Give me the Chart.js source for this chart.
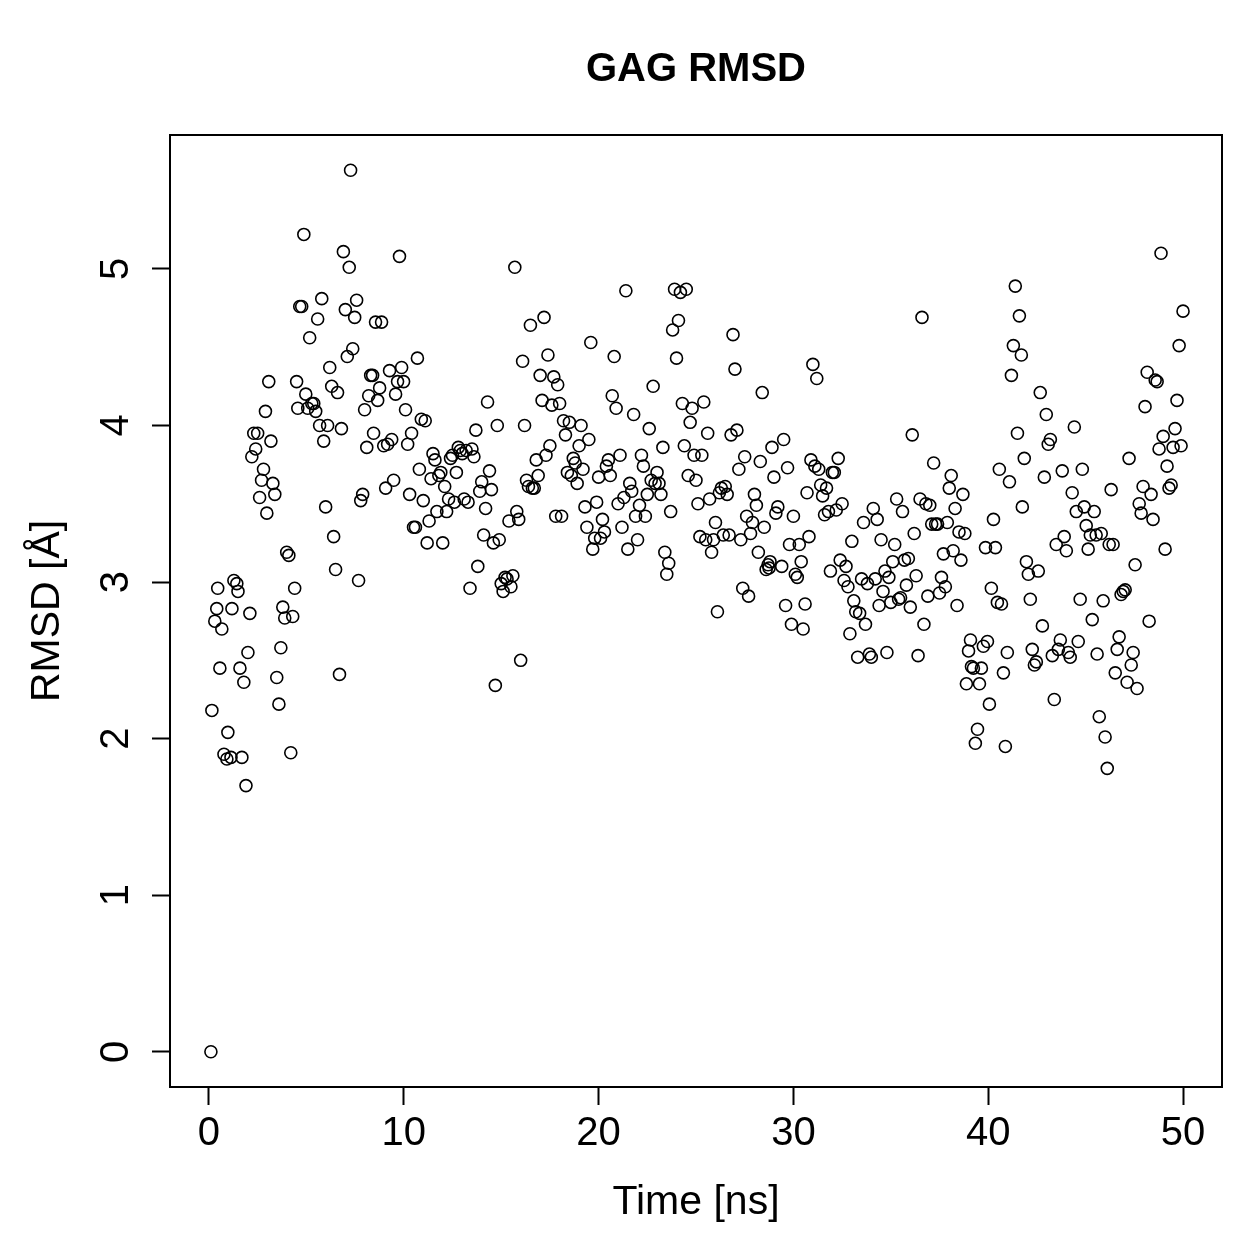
<!DOCTYPE html>
<html>
<head>
<meta charset="utf-8">
<title>GAG RMSD</title>
<script src="https://cdn.jsdelivr.net/npm/chart.js@4.4.1/dist/chart.umd.min.js"></script>
<style>
  html, body { margin: 0; padding: 0; background: #fff; }
</style>
</head>
<body>
<canvas id="rmsdChart" width="1259" height="1259"></canvas>
<script>
// ---- data ----
const TITLE = 'GAG RMSD';
const X_LABEL = 'Time [ns]';
const Y_LABEL = 'RMSD [Å]';
const X_TICKS = [0, 10, 20, 30, 40, 50];
const Y_TICKS = [0, 1, 2, 3, 4, 5];

const time = [
  0.1, 0.15, 0.3, 0.4, 0.45, 0.56, 0.66, 0.77, 0.92, 0.97,
  1.13, 1.18, 1.28, 1.43, 1.49, 1.59, 1.69, 1.79, 1.9, 2.0,
  2.1, 2.2, 2.3, 2.4, 2.5, 2.6, 2.7, 2.8, 2.9, 2.97,
  3.07, 3.18, 3.28, 3.38, 3.48, 3.59, 3.69, 3.79, 3.89, 3.99,
  4.1, 4.2, 4.3, 4.4, 4.5, 4.56, 4.66, 4.76, 4.87, 4.97,
  5.07, 5.17, 5.28, 5.38, 5.48, 5.58, 5.68, 5.79, 5.89, 5.99,
  6.09, 6.2, 6.3, 6.4, 6.5, 6.6, 6.7, 6.8, 6.9, 7.0,
  7.1, 7.2, 7.27, 7.38, 7.48, 7.58, 7.68, 7.79, 7.89, 7.99,
  8.1, 8.2, 8.3, 8.4, 8.45, 8.55, 8.66, 8.76, 8.86, 8.97,
  9.07, 9.17, 9.27, 9.38, 9.48, 9.58, 9.68, 9.78, 9.89, 9.99,
  10.09, 10.2, 10.3, 10.4, 10.5, 10.6, 10.7, 10.8, 10.9, 11.0,
  11.1, 11.2, 11.3, 11.4, 11.5, 11.6, 11.7, 11.8, 11.9, 12.0,
  12.1, 12.2, 12.3, 12.4, 12.5, 12.6, 12.7, 12.8, 12.9, 13.0,
  13.1, 13.2, 13.3, 13.4, 13.5, 13.6, 13.7, 13.8, 13.9, 14.0,
  14.1, 14.2, 14.3, 14.4, 14.5, 14.6, 14.7, 14.8, 14.9, 15.0,
  15.1, 15.2, 15.3, 15.4, 15.5, 15.6, 15.7, 15.8, 15.9, 16.0,
  16.1, 16.2, 16.3, 16.4, 16.5, 16.6, 16.7, 16.8, 16.9, 17.0,
  17.1, 17.2, 17.3, 17.4, 17.5, 17.6, 17.7, 17.8, 17.9, 18.0,
  18.1, 18.2, 18.3, 18.4, 18.5, 18.6, 18.7, 18.8, 18.9, 19.0,
  19.1, 19.2, 19.3, 19.4, 19.5, 19.6, 19.7, 19.8, 19.9, 20.0,
  20.1, 20.2, 20.3, 20.4, 20.5, 20.6, 20.7, 20.8, 20.9, 21.0,
  21.1, 21.2, 21.3, 21.4, 21.5, 21.6, 21.7, 21.8, 21.9, 22.0,
  22.1, 22.2, 22.3, 22.4, 22.5, 22.6, 22.7, 22.8, 22.9, 23.0,
  23.1, 23.2, 23.3, 23.4, 23.5, 23.6, 23.7, 23.8, 23.9, 24.0,
  24.1, 24.2, 24.3, 24.4, 24.5, 24.6, 24.7, 24.8, 24.9, 25.0,
  25.1, 25.2, 25.3, 25.4, 25.5, 25.6, 25.7, 25.8, 25.9, 26.0,
  26.1, 26.2, 26.3, 26.4, 26.5, 26.6, 26.7, 26.8, 26.9, 27.0,
  27.1, 27.2, 27.3, 27.4, 27.5, 27.6, 27.7, 27.8, 27.9, 28.0,
  28.1, 28.2, 28.3, 28.4, 28.5, 28.6, 28.7, 28.75, 28.8, 28.9,
  29.0, 29.1, 29.2, 29.4, 29.5, 29.6, 29.7, 29.8, 29.9, 30.0,
  30.1, 30.2, 30.3, 30.4, 30.5, 30.6, 30.7, 30.8, 30.9, 31.0,
  31.1, 31.2, 31.3, 31.4, 31.5, 31.6, 31.7, 31.8, 31.9, 32.0,
  32.1, 32.2, 32.3, 32.4, 32.5, 32.6, 32.7, 32.8, 32.9, 33.0,
  33.1, 33.2, 33.3, 33.4, 33.5, 33.6, 33.7, 33.8, 33.9, 34.0,
  34.1, 34.2, 34.3, 34.4, 34.5, 34.6, 34.7, 34.8, 34.9, 35.0,
  35.1, 35.2, 35.3, 35.4, 35.5, 35.6, 35.7, 35.8, 35.9, 36.0,
  36.1, 36.2, 36.3, 36.4, 36.5, 36.6, 36.7, 36.8, 36.9, 37.0,
  37.1, 37.2, 37.3, 37.4, 37.5, 37.6, 37.7, 37.8, 37.9, 38.0,
  38.1, 38.2, 38.3, 38.4, 38.5, 38.6, 38.7, 38.8, 38.88, 38.99,
  39.09, 39.14, 39.24, 39.34, 39.45, 39.55, 39.65, 39.75, 39.86, 39.96,
  40.06, 40.16, 40.27, 40.37, 40.47, 40.57, 40.68, 40.78, 40.88, 40.98,
  41.09, 41.19, 41.29, 41.39, 41.5, 41.6, 41.7, 41.75, 41.85, 41.96,
  42.06, 42.16, 42.26, 42.37, 42.47, 42.57, 42.67, 42.78, 42.88, 42.98,
  43.08, 43.19, 43.29, 43.39, 43.49, 43.6, 43.7, 43.8, 43.9, 44.01,
  44.11, 44.21, 44.31, 44.42, 44.52, 44.62, 44.72, 44.83, 44.93, 45.03,
  45.13, 45.24, 45.34, 45.44, 45.54, 45.59, 45.7, 45.8, 45.9, 46.0,
  46.11, 46.21, 46.31, 46.41, 46.52, 46.62, 46.72, 46.82, 46.93, 47.03,
  47.13, 47.23, 47.34, 47.44, 47.54, 47.64, 47.75, 47.85, 47.95, 48.05,
  48.16, 48.26, 48.36, 48.46, 48.57, 48.67, 48.77, 48.87, 48.98, 49.08,
  49.18, 49.28, 49.39, 49.49, 49.59, 49.69, 49.8, 49.9, 50.0
];

const rmsd = [
  0.00, 2.18, 2.75, 2.83, 2.96, 2.45, 2.70, 1.90, 1.87, 2.04,
  1.88, 2.83, 3.01, 2.99, 2.94, 2.45, 1.88, 2.36, 1.70, 2.55,
  2.80, 3.80, 3.95, 3.85, 3.95, 3.54, 3.65, 3.72, 4.09, 3.44,
  4.28, 3.90, 3.63, 3.56, 2.39, 2.22, 2.58, 2.84, 2.77, 3.19,
  3.17, 1.91, 2.78, 2.96, 4.28, 4.11, 4.76, 4.76, 5.22, 4.20,
  4.11, 4.56, 4.14, 4.14, 4.09, 4.68, 4.00, 4.81, 3.90, 3.48,
  4.00, 4.37, 4.25, 3.29, 3.08, 4.21, 2.41, 3.98, 5.11, 4.74,
  4.44, 5.01, 5.63, 4.49, 4.69, 4.80, 3.01, 3.52, 3.56, 4.10,
  3.86, 4.19, 4.32, 4.32, 3.95, 4.66, 4.16, 4.24, 4.66, 3.87,
  3.60, 3.88, 4.35, 3.91, 3.65, 4.20, 4.28, 5.08, 4.37, 4.28,
  4.10, 3.88, 3.56, 3.95, 3.35, 3.35, 4.43, 3.72, 4.04, 3.52,
  4.03, 3.25, 3.39, 3.66, 3.82, 3.78, 3.45, 3.68, 3.70, 3.25,
  3.61, 3.45, 3.53, 3.79, 3.81, 3.51, 3.70, 3.86, 3.84, 3.82,
  3.53, 3.84, 3.51, 2.96, 3.85, 3.80, 3.97, 3.10, 3.58, 3.64,
  3.30, 3.47, 4.15, 3.71, 3.59, 3.25, 2.34, 4.00, 3.27, 2.99,
  2.94, 3.03, 3.02, 3.39, 2.97, 3.04, 5.01, 3.45, 3.40, 2.50,
  4.41, 4.00, 3.65, 3.61, 4.64, 3.60, 3.60, 3.78, 3.68, 4.32,
  4.16, 4.69, 3.81, 4.45, 3.87, 4.13, 4.31, 3.42, 4.26, 4.14,
  3.42, 4.03, 3.94, 3.70, 4.02, 3.68, 3.79, 3.76, 3.63, 3.87,
  4.00, 3.72, 3.48, 3.35, 3.91, 4.53, 3.21, 3.28, 3.51, 3.67,
  3.28, 3.40, 3.32, 3.74, 3.78, 3.68, 4.19, 4.44, 4.11, 3.50,
  3.81, 3.35, 3.54, 4.86, 3.21, 3.63, 3.58, 4.07, 3.42, 3.27,
  3.49, 3.81, 3.74, 3.42, 3.56, 3.98, 3.65, 4.25, 3.63, 3.70,
  3.63, 3.56, 3.86, 3.19, 3.05, 3.12, 3.45, 4.61, 4.87, 4.43,
  4.67, 4.85, 4.14, 3.87, 4.87, 3.68, 4.02, 4.11, 3.81, 3.65,
  3.50, 3.29, 3.81, 4.15, 3.27, 3.95, 3.53, 3.19, 3.27, 3.38,
  2.81, 3.57, 3.60, 3.30, 3.61, 3.56, 3.30, 3.94, 4.58, 4.36,
  3.97, 3.72, 3.27, 2.96, 3.80, 3.42, 2.91, 3.31, 3.38, 3.56,
  3.49, 3.19, 3.77, 4.21, 3.35, 3.08, 3.11, 3.09, 3.13, 3.86,
  3.67, 3.44, 3.48, 3.10, 3.91, 2.85, 3.73, 3.24, 2.73, 3.42,
  3.05, 3.03, 3.24, 3.13, 2.70, 2.86, 3.57, 3.29, 3.78, 4.39,
  3.74, 4.30, 3.72, 3.62, 3.55, 3.43, 3.60, 3.45, 3.07, 3.70,
  3.70, 3.46, 3.79, 3.14, 3.50, 3.01, 3.10, 2.97, 2.67, 3.26,
  2.88, 2.81, 2.52, 2.80, 3.02, 3.38, 2.73, 2.99, 2.54, 2.52,
  3.47, 3.02, 3.40, 2.85, 3.27, 2.94, 3.07, 2.55, 3.03, 2.87,
  3.13, 3.24, 3.53, 2.89, 2.90, 3.45, 3.14, 2.98, 3.15, 2.84,
  3.94, 3.31, 3.04, 2.53, 3.53, 4.69, 2.73, 3.50, 2.91, 3.49,
  3.37, 3.76, 3.37, 3.37, 2.93, 3.03, 3.18, 2.97, 3.38, 3.60,
  3.68, 3.20, 3.47, 2.85, 3.32, 3.14, 3.56, 3.31, 2.35, 2.56,
  2.63, 2.46, 2.45, 1.97, 2.06, 2.35, 2.45, 2.59, 3.22, 2.62,
  2.22, 2.96, 3.40, 3.22, 2.87, 3.72, 2.86, 2.42, 1.95, 2.55,
  3.64, 4.32, 4.51, 4.89, 3.95, 4.70, 4.45, 3.48, 3.79, 3.13,
  3.05, 2.89, 2.57, 2.47, 2.49, 3.07, 4.21, 2.72, 3.67, 4.07,
  3.88, 3.91, 2.53, 2.25, 3.24, 2.57, 2.63, 3.71, 3.29, 3.20,
  2.55, 2.52, 3.57, 3.99, 3.45, 2.62, 2.89, 3.72, 3.48, 3.36,
  3.21, 3.30, 2.76, 3.45, 3.30, 2.54, 2.14, 3.31, 2.88, 2.01,
  1.81, 3.24, 3.59, 3.24, 2.42, 2.57, 2.65, 2.92, 2.94, 2.95,
  2.36, 3.79, 2.47, 2.55, 3.11, 2.32, 3.50, 3.44, 3.61, 4.12,
  4.34, 2.75, 3.56, 3.40, 4.29, 4.28, 3.85, 5.10, 3.93, 3.21,
  3.74, 3.60, 3.62, 3.86, 3.98, 4.16, 4.51, 3.87, 4.73
];

const FONT_FAMILY = '"Liberation Sans", Arial, Helvetica, sans-serif';

// plot frame + main title, drawn like base R graphics
const framePlugin = {
  id: 'frame',
  afterDraw(chart) {
    const { ctx, chartArea } = chart;
    ctx.save();
    ctx.strokeStyle = '#000';
    ctx.lineWidth = 2;
    ctx.strokeRect(chartArea.left, chartArea.top,
      chartArea.right - chartArea.left, chartArea.bottom - chartArea.top);
    ctx.fillStyle = '#000';
    ctx.font = 'bold 40px ' + FONT_FAMILY;
    ctx.textAlign = 'center';
    ctx.textBaseline = 'middle';
    ctx.fillText(TITLE, (chartArea.left + chartArea.right) / 2, 70);
    ctx.restore();
  }
};

const tickGrid = {
  display: true,
  drawOnChartArea: false,
  drawTicks: true,
  tickLength: 18,
  tickWidth: 2,
  tickColor: '#000',
  color: '#000'
};

const ctx = document.getElementById('rmsdChart').getContext('2d');
new Chart(ctx, {
  type: 'scatter',
  data: {
    datasets: [{
      label: 'RMSD',
      data: time.map((t, i) => ({ x: t, y: rmsd[i] })),
      pointStyle: 'circle',
      pointRadius: 6,
      pointBorderWidth: 1.6,
      pointBorderColor: '#000',
      pointBackgroundColor: 'rgba(0,0,0,0)'
    }]
  },
  options: {
    responsive: false,
    animation: false,
    devicePixelRatio: 1,
    layout: { padding: { top: 135, right: 37, left: 23, bottom: 32 } },
    plugins: {
      legend: { display: false },
      tooltip: { enabled: false },
      title: { display: false }
    },
    scales: {
      x: {
        type: 'linear',
        min: -2,
        max: 52,
        afterBuildTicks: s => { s.ticks = X_TICKS.map(v => ({ value: v })); },
        afterFit: s => { s.height = 140; },
        grid: tickGrid,
        border: { display: false },
        ticks: {
          color: '#000',
          font: { family: FONT_FAMILY, size: 40, lineHeight: 1.0 },
          padding: 9,
          maxRotation: 0,
          autoSkip: false
        },
        title: {
          display: true,
          text: X_LABEL,
          color: '#000',
          font: { family: FONT_FAMILY, size: 41, lineHeight: 1.2 },
          padding: 0
        }
      },
      y: {
        type: 'linear',
        min: -0.225,
        max: 5.855,
        afterBuildTicks: s => { s.ticks = Y_TICKS.map(v => ({ value: v })); },
        afterFit: s => { s.width = 147; },
        grid: tickGrid,
        border: { display: false },
        ticks: {
          color: '#000',
          font: { family: FONT_FAMILY, size: 40, lineHeight: 1.0 },
          padding: 24,
          minRotation: 90,
          maxRotation: 90,
          crossAlign: 'center',
          autoSkip: false
        },
        title: {
          display: true,
          text: Y_LABEL,
          color: '#000',
          font: { family: FONT_FAMILY, size: 41, lineHeight: 1.2 },
          padding: 0
        }
      }
    }
  },
  plugins: [framePlugin]
});
</script>
</body>
</html>
